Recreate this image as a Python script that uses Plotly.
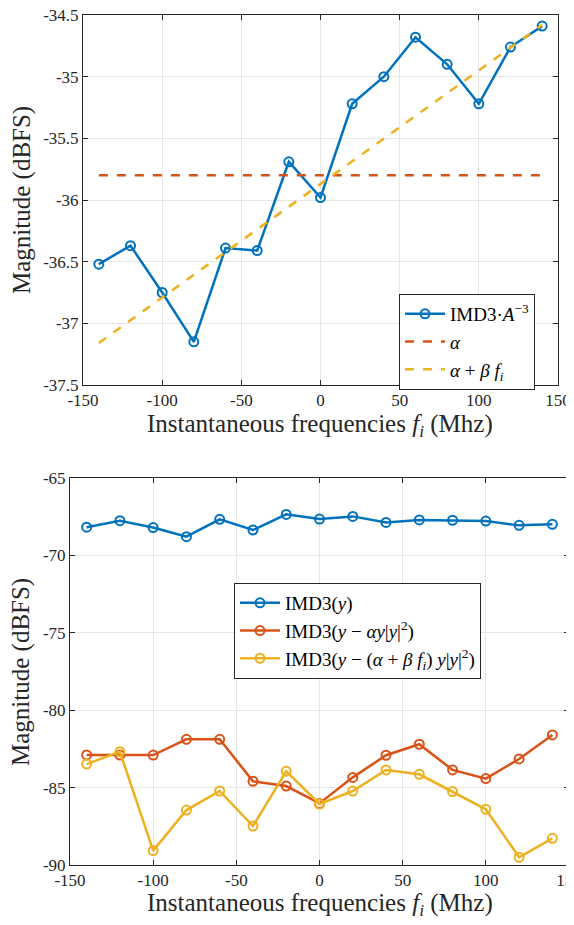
import plotly.graph_objects as go

# ---------------- data ----------------
freq = [-140, -120, -100, -80, -60, -40, -20, 0, 20, 40, 60, 80, 100, 120, 140]

imd3_scaled = [-36.52, -36.37, -36.75, -37.15, -36.39, -36.41, -35.69, -35.98,
               -35.22, -35.00, -34.68, -34.90, -35.22, -34.76, -34.59]
alpha_x = [-140, 140]
alpha_y = [-35.80, -35.80]
alphabeta_x = [-140, 140]
alphabeta_y = [-37.16, -34.58]

imd3_y = [-68.18, -67.76, -68.20, -68.79, -67.67, -68.36, -67.35, -67.65,
          -67.48, -67.87, -67.71, -67.73, -67.78, -68.06, -67.99]
imd3_alpha = [-82.89, -82.90, -82.90, -81.88, -81.88, -84.59, -84.90, -86.02,
              -84.34, -82.91, -82.20, -83.86, -84.42, -83.15, -81.60]
imd3_alphabeta = [-83.48, -82.68, -89.07, -86.45, -85.22, -87.48, -83.95, -86.06,
                  -85.22, -83.86, -84.14, -85.26, -86.40, -89.50, -88.28]

top_yticks = [-37.5, -37, -36.5, -36, -35.5, -35, -34.5]
top_yticklabels = ["-37.5", "-37", "-36.5", "-36", "-35.5", "-35", "-34.5"]
bot_yticks = [-90, -85, -80, -75, -70, -65]
bot_yticklabels = ["-90", "-85", "-80", "-75", "-70", "-65"]
xticks = [-150, -100, -50, 0, 50, 100, 150]
xticklabels = ["-150", "-100", "-50", "0", "50", "100", "150"]

# ---------------- style ----------------
OFF = 8                      # page body margin of the browser
W, H = 574 - OFF, 925 - OFF  # figure size inside the window
BLUE, RED, YEL = "#0072BD", "#D95319", "#EDB120"
FONT = "Liberation Serif"
TXT = "#262626"
LW = 2.5
MK = dict(symbol="circle-open", size=9, line=dict(width=2))
S = "\u00a0"  # extra math spacing


def px(xp):
    return (xp - OFF) / W


def py(yp):
    return 1 - (yp - OFF) / H


fig = go.Figure()

# top panel
fig.add_trace(go.Scatter(x=freq, y=imd3_scaled, mode="lines+markers",
                         line=dict(color=BLUE, width=LW), marker=dict(color=BLUE, **MK),
                         name="IMD3·<i>A</i><sup>−3</sup>", xaxis="x", yaxis="y", legend="legend"))
fig.add_trace(go.Scatter(x=alpha_x, y=alpha_y, mode="lines",
                         line=dict(color=RED, width=LW, dash="dash"),
                         name="<i>α</i>", xaxis="x", yaxis="y", legend="legend"))
fig.add_trace(go.Scatter(x=alphabeta_x, y=alphabeta_y, mode="lines",
                         line=dict(color=YEL, width=LW, dash="dash"),
                         name=f"<i>α</i>{S}+{S}<i>β{S}f<sub>i</sub></i>", xaxis="x", yaxis="y",
                         legend="legend"))

# bottom panel
fig.add_trace(go.Scatter(x=freq, y=imd3_y, mode="lines+markers",
                         line=dict(color=BLUE, width=LW), marker=dict(color=BLUE, **MK),
                         name="IMD3(<i>y</i>)", xaxis="x2", yaxis="y2", legend="legend2"))
fig.add_trace(go.Scatter(x=freq, y=imd3_alpha, mode="lines+markers",
                         line=dict(color=RED, width=LW), marker=dict(color=RED, **MK),
                         name=f"IMD3(<i>y</i>{S}−{S}<i>αy</i>|<i>y</i>|<sup>2</sup>)",
                         xaxis="x2", yaxis="y2", legend="legend2"))
fig.add_trace(go.Scatter(x=freq, y=imd3_alphabeta, mode="lines+markers",
                         line=dict(color=YEL, width=LW), marker=dict(color=YEL, **MK),
                         name=f"IMD3(<i>y</i>{S}−{S}(<i>α</i>{S}+{S}<i>β{S}f<sub>i</sub></i>){S}<i>y</i>|<i>y</i>|<sup>2</sup>)",
                         xaxis="x2", yaxis="y2", legend="legend2"))


def ax(**kw):
    base = dict(showline=True, linecolor=TXT, linewidth=1, mirror="ticks",
                ticks="inside", ticklen=5, tickcolor=TXT, automargin=False,
                ticklabeloverflow="allow",
                showgrid=True, gridcolor="#E6E6E6", gridwidth=1, zeroline=False,
                tickfont=dict(family=FONT, size=17, color=TXT))
    base.update(kw)
    return base


fig.update_layout(
    template="none",
    width=W, height=H,
    margin=dict(l=0, r=0, t=0, b=0, pad=0, autoexpand=False),
    paper_bgcolor="white", plot_bgcolor="white",
    font=dict(family=FONT, color=TXT),
    xaxis=ax(domain=[px(83), px(558)], anchor="y", range=[-150, 150],
             tickvals=xticks, ticktext=xticklabels),
    yaxis=ax(domain=[py(385), py(15)], anchor="x", range=[-37.5, -34.5],
             tickvals=top_yticks, ticktext=top_yticklabels),
    xaxis2=ax(domain=[px(70), px(569)], anchor="y2", range=[-150, 150],
              tickvals=xticks, ticktext=xticklabels),
    yaxis2=ax(domain=[py(865), py(478)], anchor="x2", range=[-90, -65],
              tickvals=bot_yticks, ticktext=bot_yticklabels),
    legend=dict(x=px(399), y=py(294), xanchor="left", yanchor="top",
                bgcolor="white", bordercolor=TXT, borderwidth=1,
                font=dict(family=FONT, size=19, color="black"),
                itemwidth=40, tracegroupgap=0),
    legend2=dict(x=px(234), y=py(583), xanchor="left", yanchor="top",
                 bgcolor="white", bordercolor=TXT, borderwidth=1,
                 font=dict(family=FONT, size=19, color="black"),
                 itemwidth=40, tracegroupgap=0),
    showlegend=True,
)

title_font = dict(family=FONT, size=25, color=TXT)
annos = [
    dict(text="Magnitude (dBFS)", x=px(22), y=py(200), textangle=-90),
    dict(text="Magnitude (dBFS)", x=px(21), y=py(672), textangle=-90),
    dict(text="Instantaneous frequencies <i>f<sub>i</sub></i> (Mhz)", x=px(320), y=py(425)),
    dict(text="Instantaneous frequencies <i>f<sub>i</sub></i> (Mhz)", x=px(320), y=py(904)),
]
for a in annos:
    fig.add_annotation(xref="paper", yref="paper", showarrow=False,
                       xanchor="center", yanchor="middle", font=title_font, **a)

fig.write_html("out.html")
